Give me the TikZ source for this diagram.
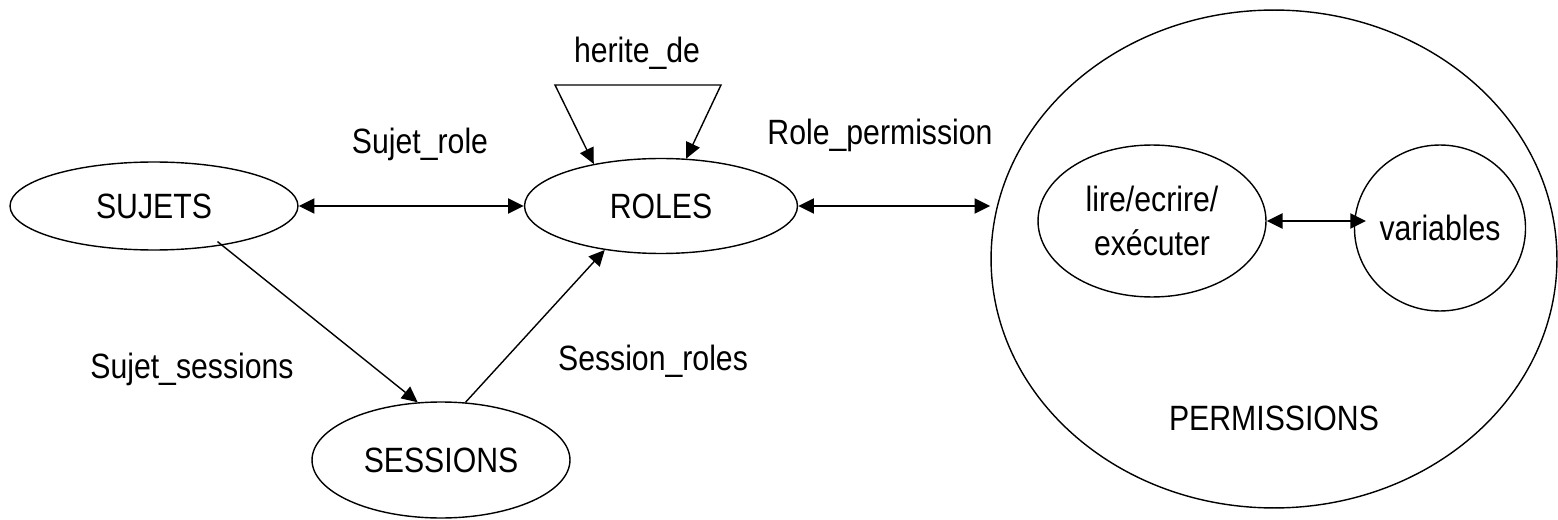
\documentclass[tikz,border=0pt]{standalone}
\usepackage{fontspec}
\setmainfont{Liberation Sans}[FakeStretch=0.86]
\usetikzlibrary{shapes.geometric,arrows.meta}

\begin{document}
\begin{tikzpicture}[x=0.02cm,y=-0.02cm,
  font=\fontsize{20}{23}\selectfont,
  ent/.style={draw,ellipse,inner sep=0pt,line width=0.8pt},
  lbl/.style={anchor=base},
  lien/.style={line width=0.8pt,-{Triangle[length=9pt,width=8.5pt]}},
  liendouble/.style={line width=0.8pt,{Triangle[length=9pt,width=8.5pt]}-{Triangle[length=9pt,width=8.5pt]}},
  lienbi/.style={line width=1.5pt,{Triangle[length=9pt,width=8.5pt]}-{Triangle[length=9pt,width=8.5pt]}}]
\useasboundingbox (0,0) rectangle (1558,520);
% entites
\node[ent,minimum width=5.76cm,minimum height=1.76cm] (sujets) at (154,206) {SUJETS};
\node[ent,minimum width=5.46cm,minimum height=1.9cm] (roles) at (661,206) {ROLES};
\node[ent,minimum width=5.16cm,minimum height=2.32cm] (sessions) at (441,460) {SESSIONS};
\node[ent,minimum width=11.32cm,minimum height=9.96cm] (perms) at (1274,259) {};
\node[ent,minimum width=4.56cm,minimum height=3.04cm,align=center,
  font=\fontsize{20}{25}\selectfont] (lire) at (1152,221) {lire/ecrire/\\exécuter};
\node[ent,minimum width=3.32cm,minimum height=3.32cm] (variables) at (1440,228) {variables};
\node[lbl] (permlbl) at (1274,430) {PERMISSIONS};
% relations
\draw[lienbi] (sujets) -- (roles);
\draw[lienbi] (roles) -- (roles -| perms.west);
\draw[lienbi,shorten >=-7pt] (lire) -- (lire -| variables.west);
\draw[lien,shorten <=-3.5pt] (sujets.-30) -- (sessions.112);
\draw[lien] (sessions.67) -- (roles.-142);
\coordinate (hg) at (555,85);
\coordinate (hd) at (721,85);
\draw[liendouble] (roles.148) -- (hg) -- (hd) -- (roles.62);
% libelles
\node[lbl] (lblherite) at (637,63) {herite\_de};
\node[lbl] (lblsr) at (420,154) {Sujet\_role};
\node[lbl] (lblrp) at (880,145) {Role\_permission};
\node[lbl] (lblss) at (192,378) {Sujet\_sessions};
\node[lbl] (lblsessr) at (653,370) {Session\_roles};
\end{tikzpicture}
\end{document}
